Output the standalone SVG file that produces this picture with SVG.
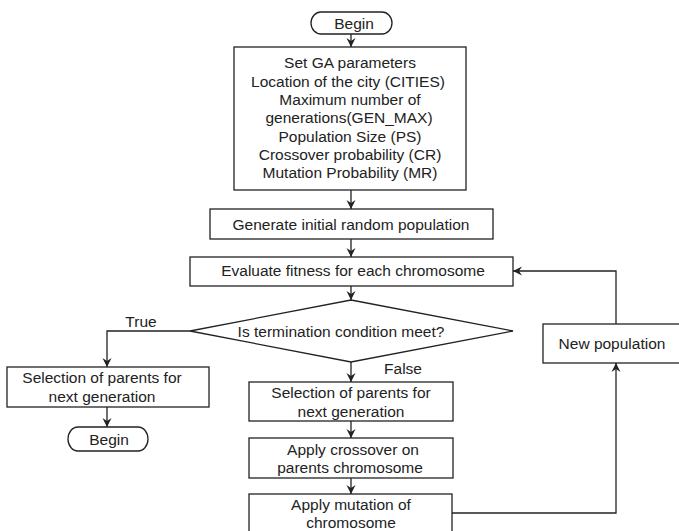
<svg xmlns="http://www.w3.org/2000/svg" width="679" height="531" viewBox="0 0 679 531">
<style>
.box{fill:#fff;stroke:#222;stroke-width:1.3}
.t{font-family:"Liberation Sans",Arial,sans-serif;font-size:15.5px;fill:#222;text-anchor:middle}
.c{fill:none;stroke:#222;stroke-width:1.3}
</style>
<defs>
<marker id="ah" markerUnits="userSpaceOnUse" markerWidth="10" markerHeight="10" refX="9" refY="5" orient="auto">
<path d="M0,0.5 L9,5 L0,9.5 L3,5 z" fill="#222"/>
</marker>
</defs>
<rect width="679" height="531" fill="#fff"/>
<g id="connectors">
<line class="c" x1="351" y1="34" x2="351" y2="47" marker-end="url(#ah)"/>
<line class="c" x1="351" y1="190" x2="351" y2="209" marker-end="url(#ah)"/>
<line class="c" x1="351" y1="239" x2="351" y2="257" marker-end="url(#ah)"/>
<line class="c" x1="351" y1="286" x2="351" y2="300" marker-end="url(#ah)"/>
<path class="c" d="M190,331 H107 V367" marker-end="url(#ah)"/>
<line class="c" x1="107" y1="407" x2="107" y2="427" marker-end="url(#ah)"/>
<line class="c" x1="351" y1="362" x2="351" y2="382" marker-end="url(#ah)"/>
<line class="c" x1="351" y1="421" x2="351" y2="438" marker-end="url(#ah)"/>
<line class="c" x1="351" y1="478" x2="351" y2="494" marker-end="url(#ah)"/>
<path class="c" d="M452,513 H616 V363" marker-end="url(#ah)"/>
<path class="c" d="M616,324 V271 H513" marker-end="url(#ah)"/>
<text class="t" x="141" y="327">True</text>
<text class="t" x="403" y="374">False</text>
</g>
<g id="begin">
<rect class="box" x="311" y="12" width="81" height="22" rx="10" ry="11"/>
<text class="t" x="354" y="29">Begin</text>
</g>
<g id="params">
<rect class="box" x="234" y="47" width="232" height="143"/>
<text class="t" x="350" y="68">Set GA parameters</text>
<text class="t" x="348" y="87">Location of the city (CITIES)</text>
<text class="t" x="350" y="105">Maximum number of</text>
<text class="t" x="349" y="123">generations(GEN_MAX)</text>
<text class="t" x="350" y="142">Population Size (PS)</text>
<text class="t" x="350" y="160">Crossover probability (CR)</text>
<text class="t" x="350" y="178">Mutation Probability (MR)</text>
</g>
<g id="generate">
<rect class="box" x="210" y="209" width="283" height="30"/>
<text class="t" x="351" y="230">Generate initial random population</text>
</g>
<g id="evaluate">
<rect class="box" x="190" y="257" width="323" height="29"/>
<text class="t" x="353" y="276">Evaluate fitness for each chromosome</text>
</g>
<g id="decision">
<polygon class="box" points="351,300 513,331 351,362 190,331"/>
<text class="t" x="341" y="337">Is termination condition meet?</text>
</g>
<g id="selection-left">
<rect class="box" x="7" y="367" width="202" height="40"/>
<text class="t" x="102" y="383">Selection of parents for</text>
<text class="t" x="102" y="402">next generation</text>
</g>
<g id="begin-left">
<rect class="box" x="68" y="427" width="80" height="24" rx="10" ry="12"/>
<text class="t" x="109" y="445">Begin</text>
</g>
<g id="selection">
<rect class="box" x="249" y="382" width="204" height="39"/>
<text class="t" x="351" y="398">Selection of parents for</text>
<text class="t" x="351" y="417">next generation</text>
</g>
<g id="crossover">
<rect class="box" x="249" y="438" width="204" height="40"/>
<text class="t" x="353" y="455">Apply crossover on</text>
<text class="t" x="350" y="473">parents chromosome</text>
</g>
<g id="mutation">
<rect class="box" x="249" y="494" width="203" height="42"/>
<text class="t" x="351" y="510">Apply mutation of</text>
<text class="t" x="351" y="528">chromosome</text>
</g>
<g id="new-population">
<rect class="box" x="543" y="324" width="140" height="39"/>
<text class="t" x="612" y="349">New population</text>
</g>
</svg>
